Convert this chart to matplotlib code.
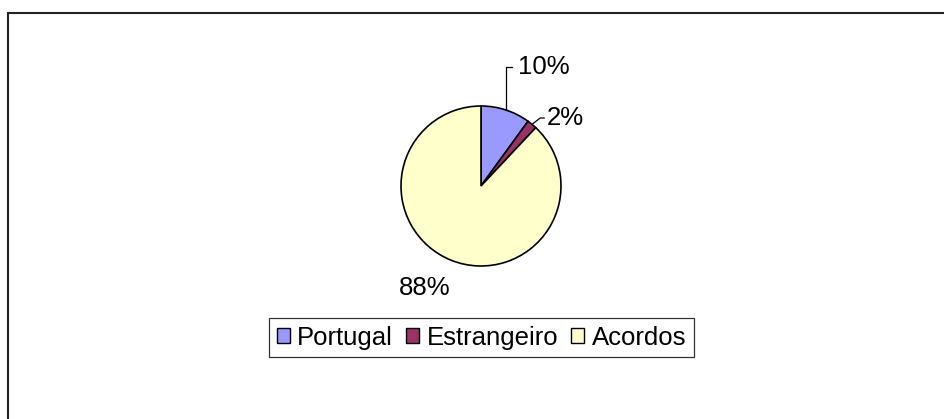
import numpy as np
import matplotlib

matplotlib.use("Agg")
import matplotlib.pyplot as plt
from matplotlib.patches import Rectangle

plt.rcParams["font.family"] = ["Liberation Sans", "DejaVu Sans"]

categories = ["Portugal", "Estrangeiro", "Acordos"]
values = [10, 2, 88]
colors = ["#9999FF", "#993366", "#FFFFCC"]
pct_labels = ["10%", "2%", "88%"]

W, H = 944, 419
fig = plt.figure(figsize=(W / 100, H / 100), dpi=100)

# outer chart-area frame (only left and top edges are visible)
fig.add_artist(Rectangle((8 / W, -0.2), 1.2, (H - 13.5) / H + 0.2,
                         transform=fig.transFigure, fill=False,
                         edgecolor="#222222", linewidth=1.5))

# pie axes: radius 1 -> 80 px, centre at (481, 186)
cx, cy, half = 481, 186, 100
ax = fig.add_axes([(cx - half) / W, (H - cy - half) / H, 2 * half / W, 2 * half / H])
ax.set_xlim(-1.25, 1.25)
ax.set_ylim(-1.25, 1.25)
ax.set_aspect("equal")
ax.axis("off")

wedges, _ = ax.pie(values, colors=colors, startangle=90, counterclock=False,
                   radius=1.0, wedgeprops=dict(edgecolor="black", linewidth=1.2))

fs = 18.5
# label text anchor (left/centre) in data units
text_pos = [(0.46, 1.49), (0.82, 0.85), (-0.71, -1.27)]
for i, (w, lab, pos) in enumerate(zip(wedges, pct_labels, text_pos)):
    mid = np.deg2rad((w.theta1 + w.theta2) / 2)
    ex, ey = np.cos(mid), np.sin(mid)
    if i == 0:
        ax.plot([ex, ex, pos[0] - 0.07], [ey, pos[1], pos[1]], color="black",
                lw=0.9, clip_on=False)
        ax.text(pos[0], pos[1], lab, fontsize=fs, ha="left", va="center")
    elif i == 1:
        ax.plot([ex, pos[0] - 0.08, pos[0] - 0.03], [ey, pos[1], pos[1]],
                color="black", lw=0.9, clip_on=False)
        ax.text(pos[0], pos[1], lab, fontsize=fs, ha="left", va="center")
    else:
        ax.text(pos[0], pos[1], lab, fontsize=fs, ha="center", va="center")

leg = fig.legend(wedges, categories, loc="center", ncol=3,
                 bbox_to_anchor=(481.5 / W, (H - 337.5) / H),
                 fontsize=fs, frameon=True, fancybox=False,
                 handlelength=0.5, handleheight=0.5, handletextpad=0.3,
                 columnspacing=0.5, borderpad=0.3, borderaxespad=0)
leg.get_frame().set_edgecolor("black")
leg.get_frame().set_linewidth(0.9)
for h in leg.legend_handles:
    h.set_linewidth(1.0)

fig.savefig("out.png", dpi=100)
